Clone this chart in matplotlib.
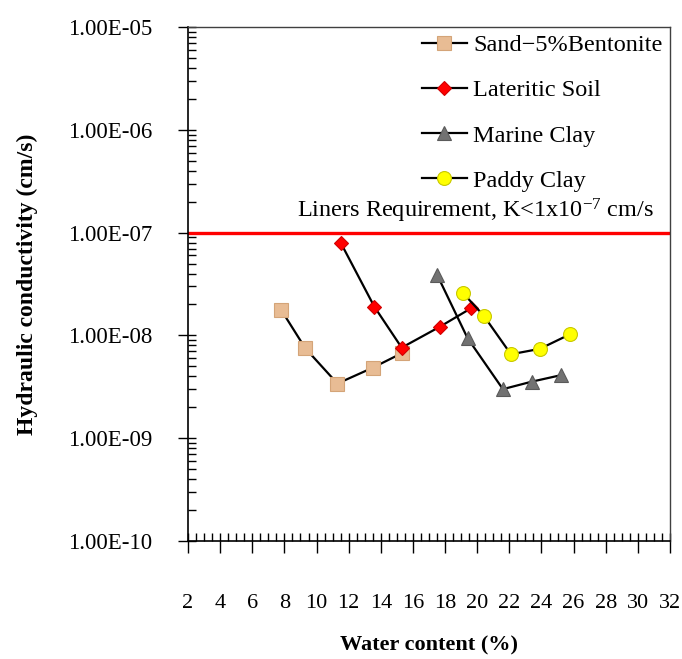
import numpy as np
import matplotlib
matplotlib.use("Agg")
import matplotlib.pyplot as plt
from matplotlib.ticker import MultipleLocator, LogLocator, FixedLocator, NullFormatter

plt.rcParams['font.family'] = ['Liberation Serif', 'DejaVu Serif']
plt.rcParams['mathtext.fontset'] = 'custom'
plt.rcParams['mathtext.rm'] = 'Liberation Serif'
plt.rcParams['mathtext.it'] = 'Liberation Serif:italic'

# ---- data ----
sand_x = [7.8, 9.3, 11.3, 13.5, 15.3]
sand_k = [1.77e-8, 7.5e-9, 3.4e-9, 4.85e-9, 6.7e-9]

lat_x = [11.5, 13.6, 15.3, 17.7, 19.6]
lat_k = [8.0e-8, 1.9e-8, 7.6e-9, 1.22e-8, 1.83e-8]

mar_x = [17.5, 19.4, 21.6, 23.4, 25.2]
mar_k = [3.9e-8, 9.4e-9, 3.0e-9, 3.55e-9, 4.1e-9]

pad_x = [19.1, 20.4, 22.1, 23.9, 25.8]
pad_k = [2.6e-8, 1.56e-8, 6.55e-9, 7.4e-9, 1.03e-8]

series_names = ["Sand\u22125%Bentonite", "Lateritic Soil", "Marine Clay", "Paddy Clay"]

xticks = list(range(2, 33, 2))
ytick_vals = [1e-10, 1e-9, 1e-8, 1e-7, 1e-6, 1e-5]
ytick_labels = ["1.00E-10", "1.00E-09", "1.00E-08", "1.00E-07", "1.00E-06", "1.00E-05"]

liner_limit = 1e-7
liner_text = "Liners Requirement, K<1x10$^{-7}$ cm/s"

# ---- figure ----
fig = plt.figure(figsize=(6.82, 6.59), dpi=100)
ax = fig.add_axes([188/682, 1-541/659, (670-188)/682, (541-27)/659])

ax.set_yscale('log')
ax.set_xlim(2, 32)
ax.set_ylim(1e-10, 1e-5)

ax.axhline(liner_limit, color='#FF0000', lw=2.4, zorder=2)

ax.plot(sand_x, sand_k, color='black', lw=1.6, marker='s', ms=9.5,
        mfc='#E8BC94', mec='#D4A478', mew=0.8, label=series_names[0], zorder=3)
ax.plot(lat_x, lat_k, color='black', lw=1.6, marker='D', ms=7.5,
        mfc='#FF0000', mec='#D00000', mew=0.8, label=series_names[1], zorder=3)
ax.plot(mar_x, mar_k, color='black', lw=1.6, marker='^', ms=10.5,
        mfc='#727272', mec='#5A5A5A', mew=0.8, label=series_names[2], zorder=3)
ax.plot(pad_x, pad_k, color='black', lw=1.6, marker='o', ms=10,
        mfc='#FFFF00', mec='#C8C800', mew=0.8, label=series_names[3], zorder=3)

ax.text(31.0, 1.39e-7, liner_text, ha='right', va='baseline', fontsize=17.5)

# ticks
ax.xaxis.set_major_locator(FixedLocator(xticks))
ax.set_xticklabels([str(t) for t in xticks])
ax.xaxis.set_minor_locator(MultipleLocator(0.5))
ax.xaxis.remove_overlapping_locs = False
ax.yaxis.set_major_locator(FixedLocator(ytick_vals))
ax.set_yticklabels(ytick_labels)
ax.yaxis.set_minor_locator(LogLocator(base=10, subs=np.arange(1, 10), numticks=20))
ax.yaxis.set_minor_formatter(NullFormatter())
ax.yaxis.remove_overlapping_locs = False

ax.tick_params(axis='x', which='major', direction='out', length=8.5, width=1, pad=30, labelsize=16)
ax.tick_params(axis='x', which='minor', direction='in', length=5.5, width=1)
ax.tick_params(axis='y', which='major', direction='out', length=7.5, width=1, pad=18, labelsize=16.5)
ax.tick_params(axis='y', which='minor', direction='in', length=6, width=1)

for s in ['left', 'bottom']:
    ax.spines[s].set_linewidth(1.2)
for s in ['top', 'right']:
    ax.spines[s].set_linewidth(1.0)
    ax.spines[s].set_color('#404040')

ax.set_xlabel("Water content (%)", fontsize=16, fontweight='bold', labelpad=16)
ax.set_ylabel("Hydraulic conductivity (cm/s)", fontsize=17, fontweight='bold', labelpad=22)

leg = ax.legend(loc='upper right', bbox_to_anchor=(1.0, 1.0), frameon=False, fontsize=17.5,
                handlelength=1.85, handletextpad=0.28, labelspacing=0.95, borderaxespad=0.05,
                borderpad=0.25)

fig.savefig("out.png", dpi=100)
